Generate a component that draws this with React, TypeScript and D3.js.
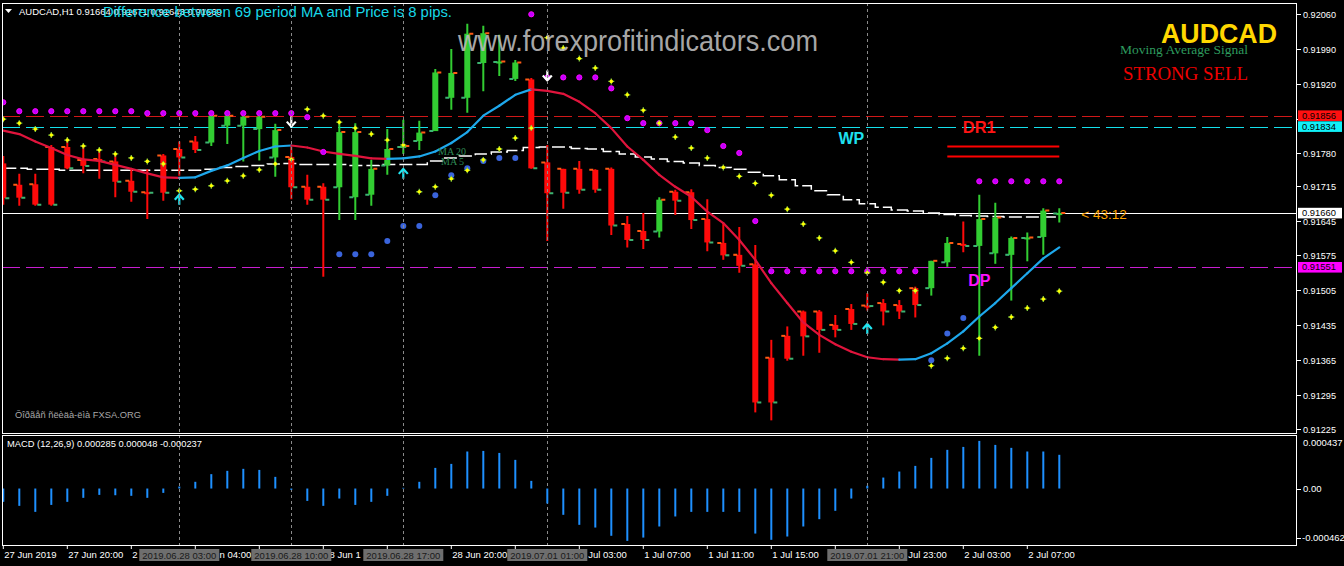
import React, { useEffect, useRef } from "react";
import * as d3 from "d3";

const W = 1344;
const H = 566;

// AUDCAD H1 bars, 27 Jun 16:00 .. 2 Jul 09:00
const opens = [
  0.9176, 0.91717, 0.91718, 0.91793, 0.91793, 0.91767, 0.91769, 0.91764, 0.91725, 0.91702,
  0.91776, 0.91789, 0.91804, 0.91802, 0.91836, 0.91836, 0.91829, 0.91772, 0.91773, 0.91713,
  0.91713, 0.91712, 0.91692, 0.91697, 0.91756, 0.91793, 0.91805, 0.91825, 0.91892, 0.91892,
  0.91962, 0.91964, 0.9193, 0.91929, 0.91762, 0.91749, 0.91749, 0.91747, 0.91749, 0.91638,
  0.91624, 0.91623, 0.91703, 0.91702, 0.91648, 0.916, 0.91576, 0.91557, 0.91369, 0.91413,
  0.91462, 0.91462, 0.91435, 0.91467, 0.91474, 0.91479, 0.91475, 0.91509, 0.91509, 0.91561,
  0.91598, 0.91594, 0.91579, 0.91576, 0.9161, 0.91612, 0.91659,
];
const highs = [
  0.91775, 0.91739, 0.91739, 0.91797, 0.91807, 0.91797, 0.91784, 0.91777, 0.91748, 0.91748,
  0.91779, 0.91804, 0.91815, 0.91859, 0.91858, 0.91856, 0.91856, 0.9184, 0.91794, 0.91737,
  0.9172, 0.91841, 0.91841, 0.91767, 0.91829, 0.91848, 0.91846, 0.9195, 0.9199, 0.92041,
  0.92037, 0.92019, 0.91968, 0.91932, 0.91797, 0.91749, 0.91765, 0.91748, 0.91752, 0.91654,
  0.9166, 0.91692, 0.91707, 0.91708, 0.91688, 0.9164, 0.91632, 0.91596, 0.91405, 0.91432,
  0.91464, 0.91465, 0.91455, 0.91477, 0.91499, 0.91487, 0.91485, 0.91512, 0.91564, 0.91612,
  0.91643, 0.91697, 0.91681, 0.91613, 0.91621, 0.9167, 0.9167,
];
const lows = [
  0.91677, 0.91675, 0.91675, 0.91675, 0.91748, 0.9174, 0.91729, 0.91692, 0.91683, 0.91648,
  0.91685, 0.91735, 0.91781, 0.91795, 0.91799, 0.91764, 0.91766, 0.91733, 0.91688, 0.91677,
  0.91532, 0.91646, 0.91646, 0.91675, 0.91737, 0.91779, 0.91787, 0.91825, 0.91868, 0.91862,
  0.91905, 0.91936, 0.91926, 0.91749, 0.91604, 0.91669, 0.91699, 0.91701, 0.91616, 0.91591,
  0.91588, 0.91611, 0.91656, 0.91628, 0.91583, 0.91566, 0.9154, 0.91259, 0.91243, 0.91363,
  0.91373, 0.91379, 0.9141, 0.91425, 0.91464, 0.91434, 0.91447, 0.9145, 0.91494, 0.91552,
  0.91581, 0.91373, 0.91558, 0.91484, 0.91563, 0.91576, 0.91641,
];
const closes = [
  0.9169, 0.91691, 0.91677, 0.91677, 0.9175, 0.91755, 0.91764, 0.91723, 0.91703, 0.91701,
  0.91701, 0.91772, 0.91787, 0.91856, 0.91856, 0.91854, 0.91854, 0.91827, 0.91712, 0.91687,
  0.91687, 0.91823, 0.91823, 0.91749, 0.91789, 0.91795, 0.91822, 0.91943, 0.91942, 0.92021,
  0.92022, 0.91965, 0.91963, 0.9175, 0.917, 0.91701, 0.91707, 0.91707, 0.91635, 0.91606,
  0.91606, 0.91687, 0.91685, 0.91646, 0.91601, 0.91575, 0.91554, 0.91279, 0.91279, 0.91367,
  0.91412, 0.91425, 0.91425, 0.91437, 0.91473, 0.91462, 0.91462, 0.91475, 0.91564, 0.916,
  0.91594, 0.91648, 0.91651, 0.9161, 0.91611, 0.91665, 0.9166,
];

// MA 20 (colour follows slope) and 69 period MA (white dashed)
const ma20 = [
  0.91826, 0.91819, 0.91804, 0.91791, 0.91777, 0.91768, 0.91765, 0.91757, 0.91749, 0.9174,
  0.91732, 0.91731, 0.91732, 0.91745, 0.91756, 0.91771, 0.91785, 0.91794, 0.91796, 0.91792,
  0.91784, 0.91779, 0.91775, 0.9177, 0.91769, 0.9177, 0.91774, 0.91784, 0.91801, 0.91823,
  0.91856, 0.91876, 0.91898, 0.91909, 0.91906, 0.919, 0.91884, 0.91861, 0.91831, 0.91794,
  0.91767, 0.91737, 0.91713, 0.91693, 0.91663, 0.9164, 0.91606, 0.91566, 0.91519, 0.91479,
  0.9144, 0.91415, 0.91396, 0.91381, 0.9137, 0.91366, 0.91365, 0.91366, 0.91378, 0.91398,
  0.91422, 0.91452, 0.91479, 0.91509, 0.91539, 0.91569, 0.91591,
];
const ma69 = [
  0.9175, 0.9175, 0.91748, 0.91748, 0.91746, 0.91746, 0.91746, 0.91746, 0.91746, 0.91746,
  0.91746, 0.91746, 0.91746, 0.91748, 0.91752, 0.91754, 0.91756, 0.91759, 0.9176, 0.91758,
  0.91758, 0.91758, 0.91756, 0.91756, 0.91758, 0.91758, 0.91758, 0.91765, 0.91771, 0.91775,
  0.91779, 0.91783, 0.91786, 0.91792, 0.91793, 0.91793, 0.9179, 0.91789, 0.91784, 0.91779,
  0.91773, 0.91769, 0.91764, 0.91761, 0.91756, 0.91752, 0.91748, 0.91742, 0.91735, 0.91727,
  0.91715, 0.91705, 0.91697, 0.91687, 0.91679, 0.91672, 0.91666, 0.91664, 0.9166, 0.91657,
  0.91655, 0.91654, 0.91653, 0.91652, 0.91652, 0.91652, 0.91652,
];

// parabolic SAR (yellow)
const sar = [
  0.91849, 0.91841, 0.91829, 0.91817, 0.91807, 0.91795, 0.91787, 0.91779, 0.91771, 0.91764,
  0.91759, 0.91705, 0.91708, 0.91715, 0.91725, 0.91735, 0.91747, 0.91759, 0.91768, 0.91869,
  0.91856, 0.91843, 0.91831, 0.91819, 0.91807, 0.91797, 0.91703, 0.91713, 0.91729, 0.91746,
  0.91767, 0.91789, 0.91811, 0.91831, 0.92013, 0.91992, 0.91971, 0.91952, 0.91925, 0.91898,
  0.91867, 0.91841, 0.91813, 0.91791, 0.91771, 0.91752, 0.91734, 0.9172, 0.91696, 0.91668,
  0.91638, 0.9161, 0.91584, 0.91561, 0.9154, 0.91521, 0.91504, 0.91504, 0.91353, 0.91368,
  0.91388, 0.91408, 0.9143, 0.91451, 0.91469, 0.91487, 0.91503,
];

// blue trailing dots
const blueBars = [21, 22, 23, 24, 25, 26, 27, 28, 29, 30, 31, 32, 58, 59, 60];
const bluePrices = [
  0.91577, 0.91577, 0.91577, 0.91604, 0.91634, 0.91634, 0.91696, 0.91736, 0.9175, 0.91765,
  0.91771, 0.91771, 0.91364, 0.91418, 0.91449,
];

// magenta stop dots
const magenta: (number | null)[] = [
  0.91883, 0.91865, 0.91865, 0.91865, 0.91865, 0.91865, 0.91865, 0.91865, 0.91865, 0.91861,
  0.91861, 0.91861, 0.91861, 0.91861, 0.91861, 0.91861, 0.91861, 0.91861, 0.91861, 0.91853,
  0.91783, null, null, null, null, null, null, null, null, null,
  null, null, null, 0.9206, 0.91933, 0.91933, 0.91933, 0.91933, 0.91911, 0.91851,
  0.91841, 0.91841, 0.91841, 0.91841, 0.91827, 0.91795, 0.91781, 0.91644, 0.91543, 0.91543,
  0.91543, 0.91543, 0.91543, 0.91543, 0.91543, 0.91543, 0.91543, 0.91543, null, null,
  null, 0.91724, 0.91724, 0.91724, 0.91724, 0.91724, 0.91724,
];

const macdHist = [
  -0.000113, -0.000147, -0.000198, -0.000139, -0.000113, -0.000079, -0.000054, -0.000057, -0.000062, -0.000079,
  -0.000037, 0.000017, 0.000057, 0.000122, 0.00015, 0.000167, 0.000158, 0.000099, -0.000011, -0.000105,
  -0.000147, -0.000085, -0.000139, -0.000113, -0.000062, 0.000006, 0.000057, 0.000175, 0.000209, 0.000314,
  0.000319, 0.000302, 0.000243, 0.000065, -0.000127, -0.000223, -0.000308, -0.000331, -0.000401, -0.000444,
  -0.000416, -0.000322, -0.000237, -0.000198, -0.000198, -0.000198, -0.000198, -0.000382, -0.000435, -0.000407,
  -0.000322, -0.00026, -0.000189, -0.000085, 0.000023, 0.000093, 0.000144, 0.000192, 0.00026, 0.000328,
  0.000353, 0.000404, 0.00037, 0.000345, 0.000314, 0.000314, 0.000286,
];

const priceTicks = [
  "0.92060", "0.91990", "0.91920", "0.91850", "0.91780", "0.91715", "0.91645",
  "0.91575", "0.91505", "0.91435", "0.91365", "0.91295", "0.91225",
];
const macdTicks = ["0.000437", "0.00", "-0.000462"];

const timeBars = [0, 4, 8, 12, 16, 20, 24, 28, 32, 36, 40, 44, 48, 52, 56, 60, 64];
const timeLabels = [
  "27 Jun 2019", "27 Jun 20:00", "28 Jun 00:00", "28 Jun 04:00", "28 Jun 08:00", "28 Jun 12:00",
  "28 Jun 16:00", "28 Jun 20:00", "30 Jun 23:00", "1 Jul 03:00", "1 Jul 07:00", "1 Jul 11:00",
  "1 Jul 15:00", "1 Jul 19:00", "1 Jul 23:00", "2 Jul 03:00", "2 Jul 07:00",
];

const signalBars = [11, 18, 25, 34, 54];
const signalTimes = [
  "2019.06.28 03:00", "2019.06.28 10:00", "2019.06.28 17:00", "2019.07.01 01:00", "2019.07.01 21:00",
];
const upArrowBars = [11, 25, 54];
const upArrowPrices = [0.91697, 0.91749, 0.91437];
const downArrowBars = [18, 34];
const downArrowPrices = [0.91834, 0.91927];

const levelPrices = [0.91856, 0.91834, 0.9166, 0.91551];
const levelColors = ["#d01818", "#14e0ec", "#ffffff", "#c81ed0"];
const levelBoxColors = ["#ff1010", "#10f0f8", "#ffffff", "#ff00ff"];
const drPrices = [0.91794, 0.91774];

const ChartAUDCAD: React.FC = () => {
  const ref = useRef<SVGSVGElement | null>(null);

  useEffect(() => {
    if (!ref.current) return;
    const svg = d3.select(ref.current);
    svg.selectAll("*").remove();

    const x = d3.scaleLinear().domain([0, 66]).range([3.3, 1059.3]);
    const y = d3.scaleLinear().domain([0.91225, 0.9206]).range([429.3, 14.3]);
    const ym = d3.scaleLinear().domain([-0.000462, 0.000437]).range([543, 437]);
    const font = "'Liberation Sans', Arial, sans-serif";
    const serif = "'Liberation Serif', 'Times New Roman', serif";

    svg.append("rect").attr("width", W).attr("height", H).attr("fill", "#000");

    const defs = svg.append("defs");
    defs.append("clipPath").attr("id", "main-clip")
      .append("rect").attr("x", 2.5).attr("y", 3).attr("width", 1294).attr("height", 430);

    const main = svg.append("g").attr("clip-path", "url(#main-clip)");

    // signal separators (both panels)
    signalBars.forEach((b) => {
      svg.append("line")
        .attr("x1", Math.round(x(b)) + 0.5).attr("x2", Math.round(x(b)) + 0.5).attr("y1", 3).attr("y2", 545)
        .attr("stroke", "#8a8a8a").attr("stroke-dasharray", "3,3");
    });

    // horizontal levels
    levelPrices.forEach((p, k) => {
      main.append("line")
        .attr("x1", 2).attr("x2", 1296).attr("y1", Math.round(y(p)) + 0.5).attr("y2", Math.round(y(p)) + 0.5)
        .attr("stroke", levelColors[k])
        .attr("stroke-width", 1)
        .attr("stroke-dasharray", k === 2 ? null : "18,6");
    });

    // 69 MA, white dashed steps
    main.append("path")
      .datum(ma69)
      .attr("d", d3.line<number>().x((_, i) => x(i)).y((d) => y(d)).curve(d3.curveStep))
      .attr("fill", "none").attr("stroke", "#ffffff").attr("stroke-width", 1.5)
      .attr("stroke-dasharray", "13,4");

    // candles
    const candles = main.append("g");
    opens.forEach((o, i) => {
      const c = closes[i];
      const bull = c >= o;
      const col = bull ? "#32cd32" : "#ff0a0a";
      const cx = x(i);
      candles.append("line")
        .attr("x1", cx).attr("x2", cx).attr("y1", y(highs[i])).attr("y2", y(lows[i]))
        .attr("stroke", col).attr("stroke-width", 2);
      const top = y(Math.max(o, c));
      const h = Math.max(2, Math.abs(y(o) - y(c)));
      candles.append("rect")
        .attr("x", cx - 3).attr("width", 6).attr("y", top).attr("height", h).attr("fill", col);
      candles.append("line")
        .attr("x1", cx - 6).attr("x2", cx - 2).attr("y1", y(o)).attr("y2", y(o))
        .attr("stroke", bull ? "#3cb371" : "#ff5a14").attr("stroke-width", 2);
      candles.append("line")
        .attr("x1", cx + 2).attr("x2", cx + 6).attr("y1", y(c)).attr("y2", y(c))
        .attr("stroke", bull ? "#ff5a14" : "#3cb371").attr("stroke-width", 2);
    });

    // MA 20, red falling / blue rising
    for (let i = 0; i < ma20.length - 1; i++) {
      main.append("line")
        .attr("x1", x(i)).attr("y1", y(ma20[i])).attr("x2", x(i + 1)).attr("y2", y(ma20[i + 1]))
        .attr("stroke", ma20[i + 1] > ma20[i] ? "#1ea8ec" : "#e0143c")
        .attr("stroke-width", 2.2).attr("stroke-linecap", "round");
    }

    // DR1 lines
    drPrices.forEach((p) => {
      main.append("line")
        .attr("x1", x(59)).attr("x2", x(66)).attr("y1", y(p)).attr("y2", y(p))
        .attr("stroke", "#ff0000").attr("stroke-width", 2);
    });

    // magenta dots
    magenta.forEach((p, i) => {
      if (p == null) return;
      main.append("circle").attr("cx", x(i)).attr("cy", y(p)).attr("r", 2.6)
        .attr("fill", "#c000ff").attr("stroke", "#ff00ff").attr("stroke-width", 1);
    });

    // blue dots
    blueBars.forEach((b, k) => {
      main.append("circle").attr("cx", x(b)).attr("cy", y(bluePrices[k])).attr("r", 3)
        .attr("fill", "#3a64dc");
    });

    // SAR yellow
    sar.forEach((p, i) => {
      const g = main.append("g").attr("transform", `translate(${x(i)},${y(p)})`);
      g.append("path").attr("d", "M-3,0H3M0,-3V3").attr("stroke", "#7cc840").attr("stroke-width", 1.3);
      g.append("circle").attr("r", 1.8).attr("fill", "#ffff00");
    });

    // arrows
    upArrowBars.forEach((b, k) => {
      main.append("path")
        .attr("transform", `translate(${x(b)},${y(upArrowPrices[k])})`)
        .attr("d", "M-4.5,5L0,0L4.5,5M0,0V10")
        .attr("fill", "none").attr("stroke", "#20e4f0").attr("stroke-width", 2.2);
    });
    downArrowBars.forEach((b, k) => {
      main.append("path")
        .attr("transform", `translate(${x(b)},${y(downArrowPrices[k])})`)
        .attr("d", "M-4.5,-5L0,0L4.5,-5M0,0V-10")
        .attr("fill", "none").attr("stroke", "#ffffff").attr("stroke-width", 2.2);
    });

    // chart annotations
    main.append("text").attr("x", x(53)).attr("y", y(0.91799)).attr("text-anchor", "middle")
      .attr("font-family", font).attr("font-weight", "bold").attr("font-size", 16)
      .attr("fill", "#1ee0f0").text("WP");
    main.append("text").attr("x", x(61)).attr("y", y(0.91821)).attr("text-anchor", "middle")
      .attr("font-family", font).attr("font-weight", "bold").attr("font-size", 16.5)
      .attr("fill", "#ff1414").text("DR1");
    main.append("text").attr("x", x(61)).attr("y", y(0.91513)).attr("text-anchor", "middle")
      .attr("font-family", font).attr("font-weight", "bold").attr("font-size", 16)
      .attr("fill", "#ff10ff").text("DP");
    main.append("text").attr("x", x(66) + 22).attr("y", y(0.9166) + 6).attr("font-family", font)
      .attr("font-size", 13.5).attr("fill", "#ffa500").text("<  43:12");
    main.append("text").attr("x", 438).attr("y", 155).attr("font-family", serif)
      .attr("font-size", 10).attr("fill", "#2e8b57").text("MA 20");
    main.append("text").attr("x", 441).attr("y", 165).attr("font-family", serif)
      .attr("font-size", 10).attr("fill", "#2e8b57").text("MA 5");

    // screen texts
    main.append("text").attr("x", 458).attr("y", 51).attr("font-family", font)
      .attr("font-size", 30).attr("fill", "#b9b9b9").attr("opacity", 0.9)
      .attr("textLength", 360).attr("lengthAdjust", "spacingAndGlyphs")
      .text("www.forexprofitindicators.com");
    main.append("path").attr("d", "M5,9L12,9L8.5,13Z").attr("fill", "#fff");
    main.append("text").attr("x", 19).attr("y", 14.5).attr("font-family", font)
      .attr("font-size", 9.5).attr("fill", "#fff")
      .text("AUDCAD,H1  0.91664 0.91671 0.91643 0.91660");
    main.append("text").attr("x", 103).attr("y", 16.5).attr("font-family", font)
      .attr("font-size", 14.5).attr("fill", "#18d8e8")
      .attr("textLength", 349).attr("lengthAdjust", "spacingAndGlyphs")
      .text("Difference between 69 period MA and Price is 8 pips.");
    main.append("text").attr("x", 1161).attr("y", 43.3).attr("font-family", font)
      .attr("font-weight", "bold").attr("font-size", 27).attr("fill", "#ffd700")
      .attr("textLength", 116).attr("lengthAdjust", "spacingAndGlyphs").text("AUDCAD");
    main.append("text").attr("x", 1120).attr("y", 54).attr("font-family", serif)
      .attr("font-size", 13).attr("fill", "#2e9b5e")
      .attr("textLength", 128).attr("lengthAdjust", "spacingAndGlyphs").text("Moving Average Signal");
    main.append("text").attr("x", 1123).attr("y", 80).attr("font-family", serif)
      .attr("font-size", 19).attr("fill", "#ee0000")
      .attr("textLength", 125).attr("lengthAdjust", "spacingAndGlyphs").text("STRONG SELL");
    main.append("text").attr("x", 15).attr("y", 418).attr("font-family", font)
      .attr("font-size", 9).attr("fill", "#a8a8a8")
      .attr("textLength", 126).attr("lengthAdjust", "spacingAndGlyphs")
      .text("Õîðãåñ ñëèäà-ëìà FXSA.ORG");

    // MACD histogram
    macdHist.forEach((v, i) => {
      svg.append("line")
        .attr("x1", x(i)).attr("x2", x(i)).attr("y1", ym(0)).attr("y2", ym(v))
        .attr("stroke", "#1e90ff").attr("stroke-width", 2);
    });
    svg.append("text").attr("x", 7).attr("y", 447).attr("font-family", font)
      .attr("font-size", 9).attr("fill", "#fff")
      .attr("textLength", 195).attr("lengthAdjust", "spacingAndGlyphs")
      .text("MACD (12,26,9) 0.000285 0.000048 -0.000237");

    // frames
    svg.append("rect").attr("x", 2.5).attr("y", 3.5).attr("width", 1294).attr("height", 430)
      .attr("fill", "none").attr("stroke", "#fff");
    svg.append("rect").attr("x", 2.5).attr("y", 435.5).attr("width", 1294).attr("height", 110)
      .attr("fill", "none").attr("stroke", "#fff");

    // price axis (labels that sit under a level box are not drawn)
    priceTicks.forEach((t) => {
      const py = Math.round(y(+t)) + 0.5;
      svg.append("line").attr("x1", 1297).attr("x2", 1301).attr("y1", py).attr("y2", py).attr("stroke", "#fff");
      const covered = levelPrices.some((p) => Math.abs(y(p) - y(+t)) < 6);
      if (covered) return;
      svg.append("text").attr("x", 1303).attr("y", py).attr("dy", "0.35em").attr("font-family", font)
        .attr("font-size", 9.5).attr("fill", "#fff")
        .attr("textLength", 33).attr("lengthAdjust", "spacingAndGlyphs").text(t);
    });
    levelPrices.forEach((p, k) => {
      const py = y(p);
      svg.append("rect").attr("x", 1298).attr("y", py - 5.3).attr("width", 44).attr("height", 10.6)
        .attr("fill", levelBoxColors[k]);
      svg.append("text").attr("x", 1302).attr("y", py).attr("dy", "0.34em").attr("font-family", font)
        .attr("font-size", 8.8).attr("fill", "#000")
        .attr("textLength", 34).attr("lengthAdjust", "spacingAndGlyphs").text(p.toFixed(5));
    });

    // macd axis
    macdTicks.forEach((t, k) => {
      const v = +t;
      const py = ym(v) + (k === 0 ? 6 : k === 2 ? -5 : 0.5);
      if (k > 0) {
        const ty = Math.round(ym(v)) - (k === 2 ? 5 : 0) + 0.5;
        svg.append("line").attr("x1", 1297).attr("x2", 1301).attr("y1", ty).attr("y2", ty).attr("stroke", "#fff");
      }
      svg.append("text").attr("x", k === 2 ? 1302 : 1303).attr("y", py).attr("dy", "0.35em")
        .attr("font-family", font).attr("font-size", 9.5).attr("fill", "#fff").text(t);
    });

    // time axis: labels are partly covered by the signal time boxes, keep only visible glyphs
    const boxes = signalBars.map((b) => [x(b) - 40, x(b) + 40]);
    const axis = svg.append("g");
    timeBars.forEach((b, k) => {
      axis.append("line").attr("x1", x(b)).attr("x2", x(b)).attr("y1", 545).attr("y2", 549).attr("stroke", "#fff");
      const label = timeLabels[k];
      const probe = axis.append("text").attr("x", x(b) + 1).attr("y", 558).attr("font-family", font)
        .attr("font-size", 9.5).text(label);
      const node = probe.node() as SVGTextElement;
      const runs: { x: number; s: string }[] = [];
      let cur: { x: number; s: string } | null = null;
      for (let c = 0; c < label.length; c++) {
        const ext = node.getExtentOfChar(c);
        const mid = ext.x + ext.width / 2;
        const hidden = boxes.some(([a, e]) => mid > a && mid < e);
        if (!hidden) {
          if (!cur) cur = { x: ext.x, s: "" };
          cur.s += label[c];
        } else if (cur) {
          runs.push(cur);
          cur = null;
        }
      }
      if (cur) runs.push(cur);
      probe.remove();
      runs.forEach((r) => {
        const lead = r.s.length - r.s.trimStart().length;
        const s = r.s.trim();
        if (!s) return;
        const nx = lead ? r.x + lead * 2.6 : r.x;
        axis.append("text").attr("x", nx).attr("y", 558).attr("font-family", font)
          .attr("font-size", 9.5).attr("fill", "#fff").text(s);
      });
    });
    signalBars.forEach((b, k) => {
      axis.append("rect").attr("x", x(b) - 40).attr("y", 549).attr("width", 80).attr("height", 12)
        .attr("fill", "#6e6e6e");
      axis.append("text").attr("x", x(b)).attr("y", 558.5).attr("text-anchor", "middle")
        .attr("font-family", font).attr("font-size", 9.5).attr("fill", "#1a1a1a").text(signalTimes[k]);
    });
  }, []);

  return (
    <div style={{ position: "absolute", left: 0, top: 0, width: W, height: H, background: "#000" }}>
      <svg ref={ref} width={W} height={H} role="img" aria-label="AUDCAD H1 chart with MACD" />
    </div>
  );
};

export default function App() {
  return <ChartAUDCAD />;
}
